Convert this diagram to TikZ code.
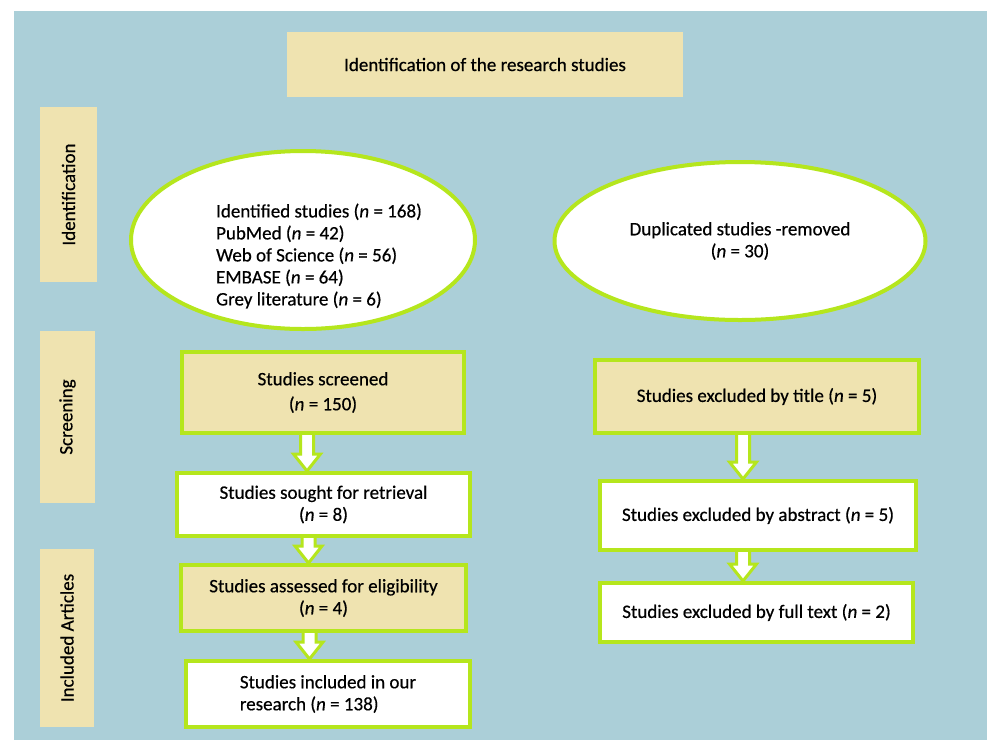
\documentclass[tikz,border=0pt]{standalone}
\usepackage{fontspec}
\setmainfont{Carlito}[FakeBold=0.5]
\usetikzlibrary{shapes.geometric,calc}
\definecolor{skyback}{HTML}{ABCFD8}
\definecolor{sand}{HTML}{EFE3B0}
\definecolor{limeline}{HTML}{B5E61D}
\begin{document}
\begin{tikzpicture}[x=1pt,y=-1pt,
    every node/.style={font=\fontsize{19}{22}\selectfont, inner sep=0pt},
    phase/.style={fill=sand, rotate=90},
    stagebox/.style={draw=limeline, line width=4pt, align=center},
    oval/.style={ellipse, draw=limeline, line width=4pt, fill=white},
    barrow/.style={draw=limeline, fill=white, line width=3pt,
      to path={let \p1=(\tikztostart), \p2=(\tikztotarget) in
        (\x1-6.5pt,\y1) -- (\x1-6.5pt,\y2+17pt) -- (\x1-13.5pt,\y2+17pt) -- (\x1,\y2)
        -- (\x1+13.5pt,\y2+17pt) -- (\x1+6.5pt,\y2+17pt) -- (\x1+6.5pt,\y1)}}]
  \useasboundingbox (0,0) rectangle (987,740);
  \fill[skyback] (14,11) rectangle (987,740);

  \node[fill=sand, minimum width=396pt, minimum height=65pt] (head) at (485,64.5) {Identification of the research studies};
  \node[phase, minimum width=175pt, minimum height=57pt] (idph) at (68.5,194.5) {Identification};
  \node[phase, minimum width=172pt, minimum height=55pt] (scph) at (67.5,417) {Screening};
  \node[phase, minimum width=178pt, minimum height=54pt] (inph) at (67,638) {Included Articles};

  \node[oval, minimum width=344pt, minimum height=178pt] (found) at (303,240) {};
  \node[align=left] (foundtxt) at (319,256) {Identified studies (\textit{n} = 168)\\PubMed (\textit{n} = 42)\\Web of Science (\textit{n} = 56)\\EMBASE (\textit{n} = 64)\\Grey literature (\textit{n} = 6)};
  \node[oval, minimum width=371pt, minimum height=158pt, align=center] (dupl) at (740,241) {Duplicated studies -removed\\(\textit{n} = 30)};

  \node[stagebox, fill=sand, minimum width=282pt, minimum height=81pt] (scr) at (323,392.5) {Studies screened\\[3pt](\textit{n} = 150)};
  \node[stagebox, fill=white, minimum width=293pt, minimum height=63pt] (sou) at (323.5,504.5) {Studies sought for retrieval\\(\textit{n} = 8)};
  \node[stagebox, fill=sand, minimum width=285pt, minimum height=66pt] (ass) at (323.5,598) {Studies assessed for eligibility\\(\textit{n} = 4)};
  \node[stagebox, fill=white, minimum width=284pt, minimum height=66pt, align=left] (inc) at (328,694) {Studies included in our\\research (\textit{n} = 138)};

  \node[stagebox, fill=sand, minimum width=324pt, minimum height=73pt] (ttl) at (757,396.5) {Studies excluded by title (\textit{n} = 5)};
  \node[stagebox, fill=white, minimum width=316pt, minimum height=69pt] (abs) at (758,515.5) {Studies excluded by abstract (\textit{n} = 5)};
  \node[stagebox, fill=white, minimum width=313pt, minimum height=59pt] (ful) at (756.5,612.5) {Studies excluded by full text (\textit{n} = 2)};

  \draw[barrow] ([xshift=-16pt]scr.south) to ([xshift=-16pt]sou.north);
  \draw[barrow] ([xshift=-15pt]sou.south) to ([xshift=-15pt]ass.north);
  \draw[barrow] ([xshift=-14pt]ass.south) to ([xshift=-14pt]inc.north);
  \draw[barrow] ([xshift=-14pt]ttl.south) to ([xshift=-14pt]abs.north);
  \draw[barrow] ([xshift=-15pt]abs.south) to ([xshift=-15pt]ful.north);
\end{tikzpicture}
\end{document}
